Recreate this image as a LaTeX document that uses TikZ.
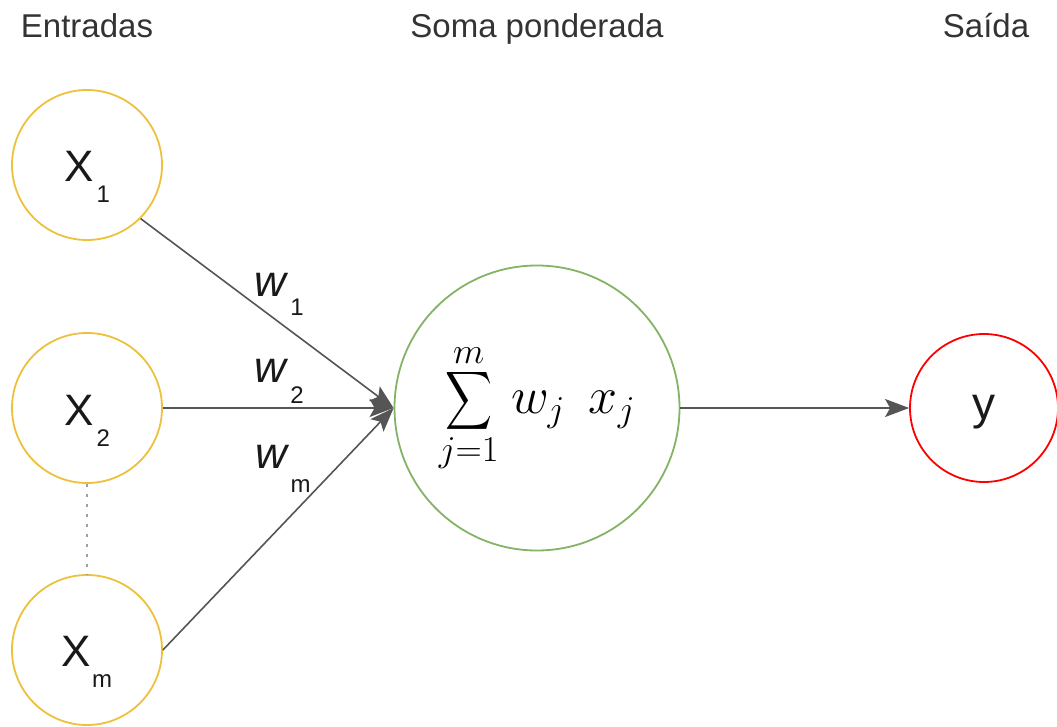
\RequirePackage{fix-cm}
\documentclass[tikz,border=0pt]{standalone}
\usepackage{amsmath}
\usepackage[no-math]{fontspec}
\setmainfont{Liberation Sans}
\usepackage{tikz}
\usetikzlibrary{arrows.meta,calc,positioning}
\definecolor{inputyellow}{HTML}{EDC13C}
\definecolor{sumgreen}{HTML}{82B366}
\definecolor{outred}{HTML}{FF0000}
\definecolor{wiregray}{HTML}{555555}
\tikzset{
  neuron/.style={circle,line width=1.8pt,minimum size=#1,inner sep=0pt},
  inputnode/.style={neuron=150pt,draw=inputyellow},
  sumnode/.style={neuron=285pt,draw=sumgreen},
  outnode/.style={neuron=148pt,draw=outred},
  wire/.style={-{Stealth[length=24pt,width=18pt,inset=5pt]},line width=1.6pt,wiregray},
  guide/.style={line width=2.6pt,gray!75,dash pattern=on 2.6pt off 7.4pt},
  headtxt/.style={font=\fontsize{33}{38}\selectfont,anchor=base,inner sep=0pt,text=black!80},
  bigtxt/.style={font=\fontsize{44}{50}\selectfont,anchor=base,inner sep=0pt,text=black!90}
}
\newcommand{\lowsub}[2][21pt]{\raisebox{-#1}{\fontsize{24}{28}\selectfont #2}}
\newcommand{\bigsigma}{\mathop{\vcenter{\hbox{\resizebox*{47pt}{65pt}{$\displaystyle\sum$}}}}}

\begin{document}
\begin{tikzpicture}[x=1pt,y=-1pt]
  \useasboundingbox (0,0) rectangle (1057,727);
  \node[headtxt] (hin) at (87,38) {Entradas};
  \node[headtxt] (hsum) at (537,38) {Soma ponderada};
  \node[headtxt] (hout) at (986,38) {Saída};
  \node[inputnode] (x1) at (87,165) {};
  \node[inputnode] (x2) at (87,408) {};
  \node[inputnode] (xm) at (87,650) {};
  \node[sumnode] (sum) at (537,408) {\fontsize{52}{60}\selectfont $\displaystyle\bigsigma\limits_{j=1}^{m}\hspace{4pt} w_j\hspace{24pt}x_j$};
  \node[outnode] (out) at (984,408) {};
  \node[bigtxt] (x1txt) at (87,182) {X\hspace{3pt}\lowsub{1}};
  \node[bigtxt] (x2txt) at (87,425) {X\hspace{3pt}\lowsub{2}};
  \node[bigtxt] (xmtxt) at (87,666) {X\hspace{1pt}\lowsub{m}};
  \node[bigtxt,font=\fontsize{46}{50}\selectfont] (ytxt) at (984,419) {y};
  \node[bigtxt] (w1) at (279,297) {\textit{w}\hspace{2pt}\lowsub[18pt]{1}};
  \node[bigtxt] (w2) at (279,382) {\textit{w}\hspace{2pt}\lowsub{2}};
  \node[bigtxt] (wm) at (283,468) {\textit{w}\hspace{1pt}\lowsub[24pt]{m}};
  \draw[wire] (x1.south east) -- (sum.west);
  \draw[wire] (x2.east) -- (sum.west);
  \draw[wire] (xm.east) -- (sum.west);
  \draw[wire] (sum.east) -- (out.west);
  \draw[guide] (x2.south) -- (xm.north);
\end{tikzpicture}
\end{document}
